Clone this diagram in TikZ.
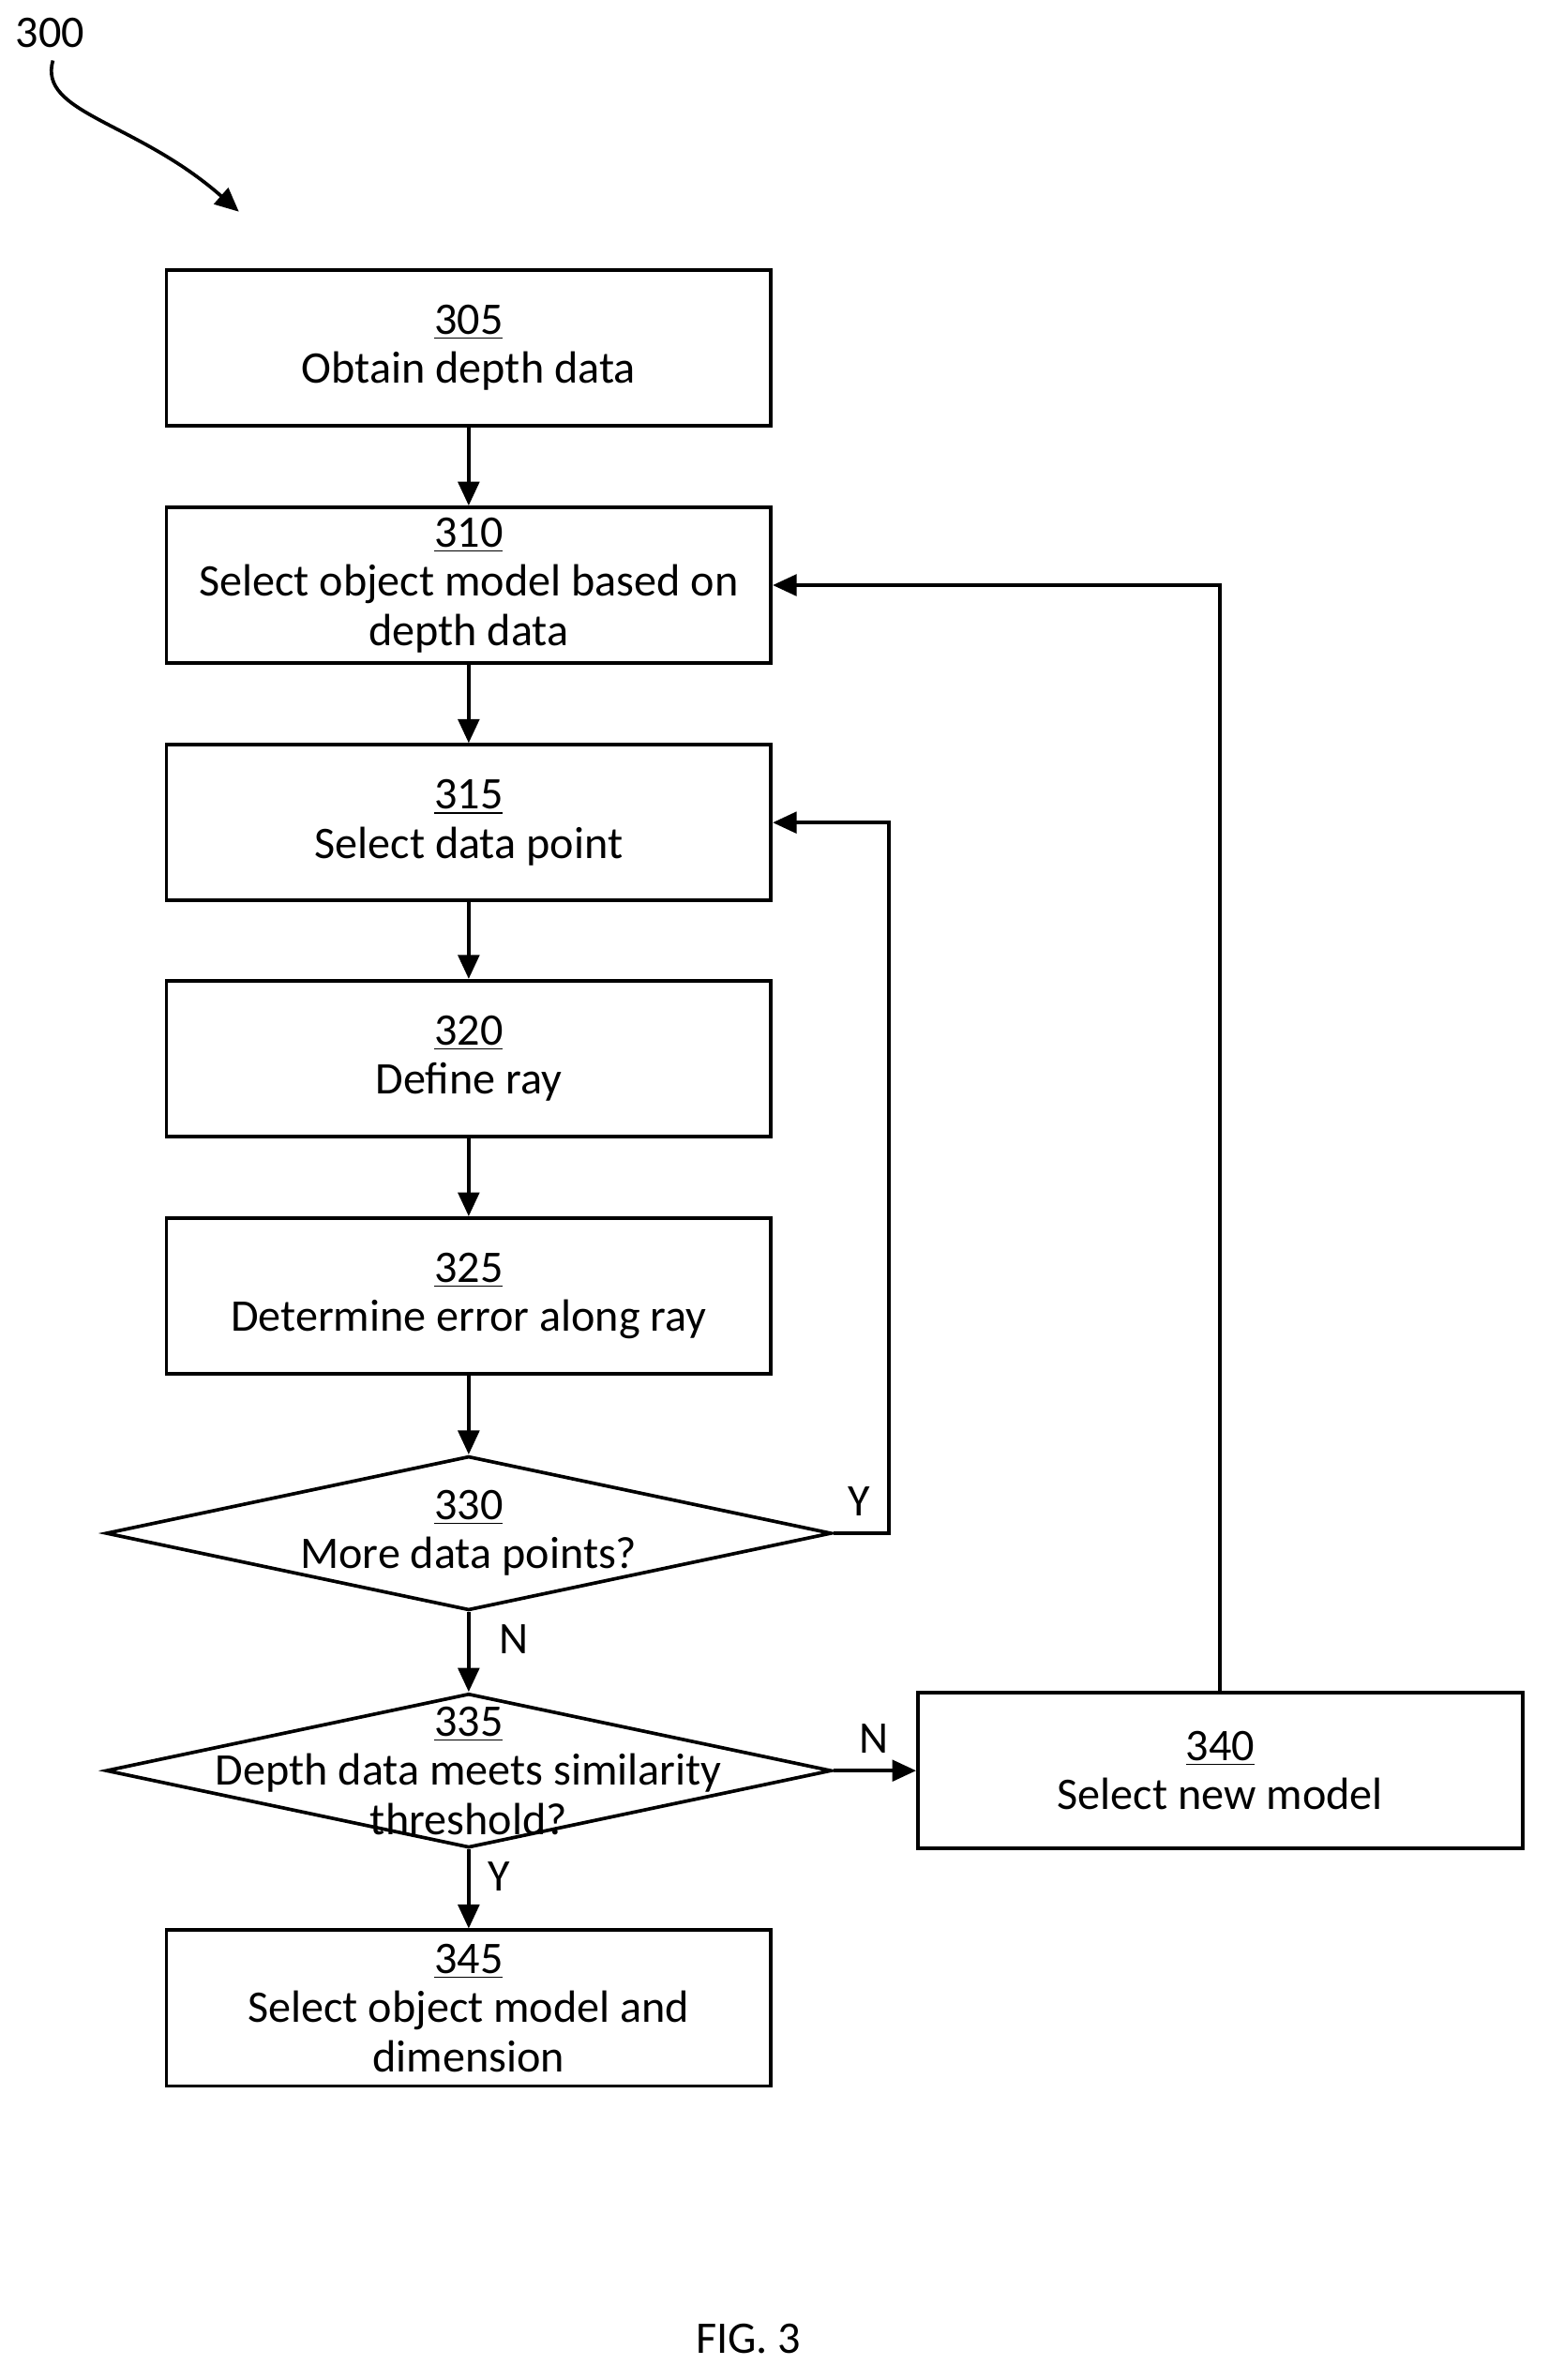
\documentclass[tikz,border=0pt]{standalone}
\usepackage{fontspec}
\setmainfont{Carlito}
\usetikzlibrary{shapes.geometric,arrows.meta,positioning}
\begin{document}
\begin{tikzpicture}[
  x=0.02cm, y=-0.02cm,
  stepbox/.style={draw, line width=1.3pt, minimum width=8cm, minimum height=2.06cm,
    align=center, font=\fontsize{17}{18.5}\selectfont},
  dia/.style={draw, diamond, line width=1.3pt, minimum width=9.6cm, minimum height=2.04cm, inner sep=0pt},
  txt/.style={align=center, font=\fontsize{17}{18.5}\selectfont},
  arr/.style={-{Triangle[length=9pt,width=8pt]}, line width=1.3pt},
  lbl/.style={font=\fontsize{17}{18}\selectfont}
]
  \useasboundingbox (0,0) rectangle (1024,1574);

  % Figure reference
  \node[lbl] (ref) at (33,22) {300};
  \coordinate (refend) at (158,140);
  \draw[arr] (35,40) .. controls (25,75) and (90,80) .. (refend);

  % Steps
  \node[stepbox] (s305) at (310,230) {\underline{305}\\Obtain depth data};
  \node[stepbox] (s310) at (310,387) {\underline{310}\\Select object model based on\\depth data};
  \node[stepbox] (s315) at (310,544) {\underline{315}\\Select data point};
  \node[stepbox] (s320) at (310,700) {\underline{320}\\Define ray};
  \node[stepbox] (s325) at (310,857) {\underline{325}\\Determine error along ray};
  \node[dia] (d330) at (310,1014) {};
  \node[txt] at (d330) {\underline{330}\\More data points?};
  \node[dia] (d335) at (310,1171) {};
  \node[txt] at (d335) {\underline{335}\\Depth data meets similarity\\threshold?};
  \node[stepbox] (s340) at (807,1171) {\underline{340}\\Select new model};
  \node[stepbox] (s345) at (310,1328) {\underline{345}\\Select object model and\\dimension};

  % Arrows
  \draw[arr] (s305) -- (s310);
  \draw[arr] (s310) -- (s315);
  \draw[arr] (s315) -- (s320);
  \draw[arr] (s320) -- (s325);
  \draw[arr] (s325) -- (d330);
  \draw[arr] (d330) -- (d335);
  \draw[arr] (d335) -- (s345);
  \draw[arr] (d335) -- (s340);
  \draw[arr] (d330.east) -- ++(37,0) |- (s315.east);
  \draw[arr] (s340.north) |- (s310.east);

  % Labels
  \node[lbl] at (568,993) {Y};
  \node[lbl] at (340,1084) {N};
  \node[lbl] at (578,1150) {N};
  \node[lbl] at (330,1241) {Y};
  \node[lbl] at (495,1547) {FIG. 3};
\end{tikzpicture}
\end{document}
